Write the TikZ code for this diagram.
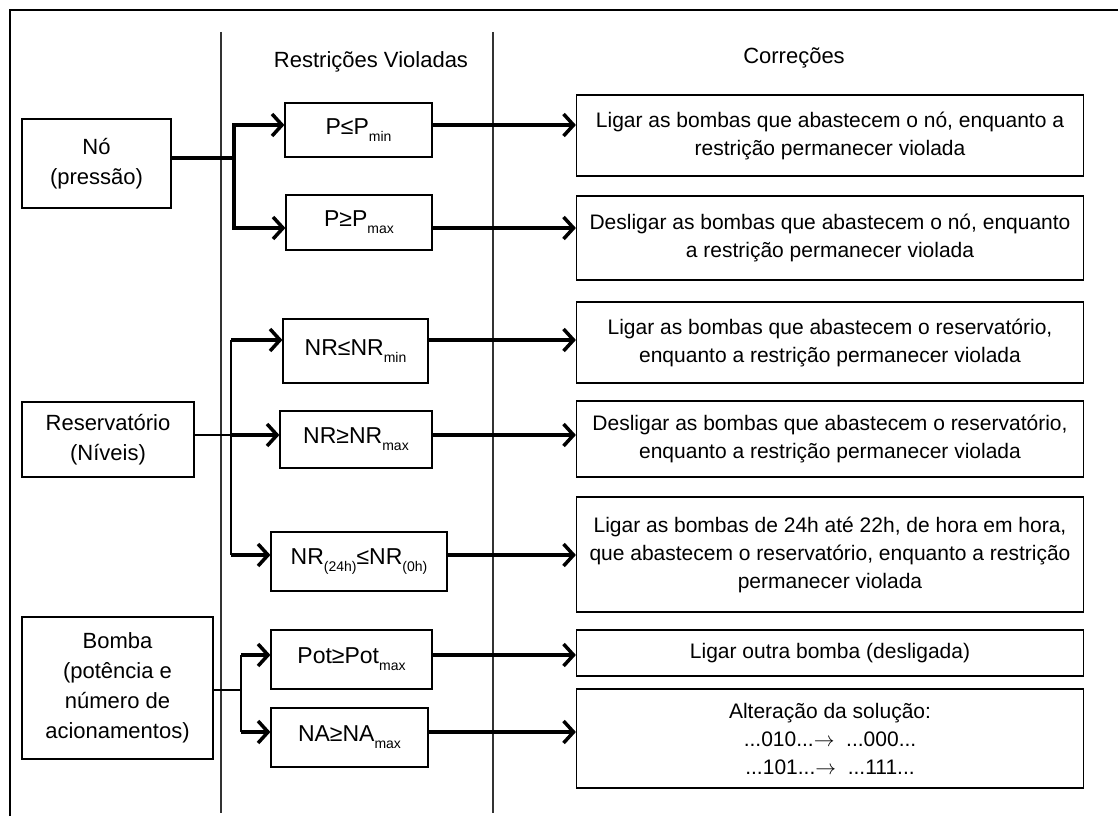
\documentclass[tikz,border=0pt]{standalone}
\usepackage{fontspec}
\setmainfont{Liberation Sans}
\usetikzlibrary{arrows.meta}
\newcommand{\rlow}[1]{\raisebox{-7pt}{\fontsize{14}{14}\selectfont #1}}

\begin{document}
\begin{tikzpicture}[x=1pt, y=-1pt,
    box/.style={draw, line width=1.2pt, align=center, inner sep=0pt, font=\fontsize{22}{30}\selectfont},
    corr/.style={box, minimum width=507pt, font=\fontsize{21}{28}\selectfont},
    cond/.style={box, font=\fontsize{23}{28}\selectfont},
    head/.style={font=\fontsize{22}{28}\selectfont},
    divider/.style={line width=1.5pt, black!80},
    fat/.style={line width=3.5pt},
    slim/.style={line width=1.4pt},
    tip/.style={fat, -{Straight Barb[length=10pt, width=22pt]}}]
    \useasboundingbox (0,0) rectangle (1118,816);

    % Frame and columns
    \draw[line width=1.5pt] (10,816) -- (10,10) -- (1118,10);
    \draw[divider] (221,32) -- (221,813);
    \draw[divider] (493,32) -- (493,813);
    \node[head] (hrestr) at (371,62) {Restrições Violadas};
    \node[head] (hcorr) at (794,58) {Correções};

    % Rows and forks
    \coordinate (r1) at (0,125);
    \coordinate (r2) at (0,228);
    \coordinate (r3) at (0,340);
    \coordinate (r4) at (0,435);
    \coordinate (r5) at (0,555);
    \coordinate (r6) at (0,655);
    \coordinate (r7) at (0,732);
    \coordinate (nofork) at (234,158);
    \coordinate (resfork) at (231,435);
    \coordinate (bfork) at (241,690);

    % Components
    \node[box, minimum width=149pt, minimum height=89pt] (no) at (96.5,163.5) {Nó\\(pressão)};
    \node[box, minimum width=172pt, minimum height=75pt] (res) at (108,439.5) {Reservatório\\(Níveis)};
    \node[box, minimum width=191pt, minimum height=142pt] (bomba) at (117.5,688) {Bomba\\(potência e\\número de\\acionamentos)};

    % Violated constraints
    \node[cond, minimum width=147pt, minimum height=54pt] (pmin) at (358.5,130) {P≤P\rlow{min}};
    \node[cond, minimum width=146pt, minimum height=55pt] (pmax) at (359,222.5) {P≥P\rlow{max}};
    \node[cond, minimum width=145pt, minimum height=64pt] (nrmin) at (355.5,351) {NR≤NR\rlow{min}};
    \node[cond, minimum width=152pt, minimum height=57pt] (nrmax) at (356,439.5) {NR≥NR\rlow{max}};
    \node[cond, minimum width=176pt, minimum height=59pt] (nr24) at (359,561.5) {NR\rlow{(24h)}≤NR\rlow{(0h)}};
    \node[cond, minimum width=161pt, minimum height=59pt] (pot) at (351.5,659.5) {Pot≥Pot\rlow{max}};
    \node[cond, minimum width=157pt, minimum height=59pt] (na) at (349.5,737.5) {NA≥NA\rlow{max}};

    % Corrections
    \node[corr, minimum height=81pt] (c1) at (830,135.5) {Ligar as bombas que abastecem o nó, enquanto a\\restrição permanecer violada};
    \node[corr, minimum height=84pt] (c2) at (830,238) {Desligar as bombas que abastecem o nó, enquanto\\a restrição permanecer violada};
    \node[corr, minimum height=81pt] (c3) at (830,342.5) {Ligar as bombas que abastecem o reservatório,\\enquanto a restrição permanecer violada};
    \node[corr, minimum height=76pt] (c4) at (830,439) {Desligar as bombas que abastecem o reservatório,\\enquanto a restrição permanecer violada};
    \node[corr, minimum height=115pt] (c5) at (830,554.5) {Ligar as bombas de 24h até 22h, de hora em hora,\\que abastecem o reservatório, enquanto a restrição\\permanecer violada};
    \node[corr, minimum height=46pt] (c6) at (830,653) {Ligar outra bomba (desligada)};
    \node[corr, minimum height=99pt] (c7) at (830,738.5) {Alteração da solução:\\...010...$\rightarrow$\ \ ...000...\\...101...$\rightarrow$\ \ ...111...};

    % Node branches
    \draw[fat] (no.east |- nofork) -- (nofork);
    \draw[tip] (nofork) |- (pmin.west |- r1);
    \draw[tip] (nofork) |- (pmax.west |- r2);

    % Reservoir branches
    \draw[slim] (res.east |- resfork) -- (resfork);
    \draw[slim] (resfork |- r3) -- (resfork |- r5);
    \draw[tip] (resfork |- r3) -- (nrmin.west |- r3);
    \draw[tip] (resfork) -- (nrmax.west |- r4);
    \draw[tip] (resfork |- r5) -- (nr24.west |- r5);

    % Pump branches
    \draw[slim] (bomba.east |- bfork) -- (bfork);
    \draw[slim] (bfork |- r6) -- (bfork |- r7);
    \draw[tip] (bfork |- r6) -- (pot.west |- r6);
    \draw[tip] (bfork |- r7) -- (na.west |- r7);

    % Constraint to correction
    \draw[tip] (pmin.east |- r1) -- (c1.west |- r1);
    \draw[tip] (pmax.east |- r2) -- (c2.west |- r2);
    \draw[tip] (nrmin.east |- r3) -- (c3.west |- r3);
    \draw[tip] (nrmax.east |- r4) -- (c4.west |- r4);
    \draw[tip] (nr24.east |- r5) -- (c5.west |- r5);
    \draw[tip] (pot.east |- r6) -- (c6.west |- r6);
    \draw[tip] (na.east |- r7) -- (c7.west |- r7);
\end{tikzpicture}
\end{document}
